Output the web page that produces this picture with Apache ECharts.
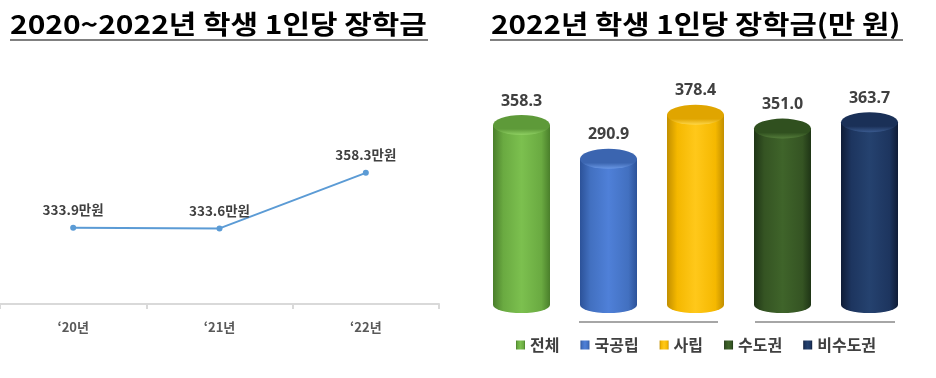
<!DOCTYPE html>
<html>
<head>
<meta charset="utf-8">
<script src="https://cdn.jsdelivr.net/npm/echarts@6/dist/echarts.min.js"></script>
<style>
  html, body { margin: 0; padding: 0; background: #fff; }
  #chart { width: 936px; height: 378px; }
</style>
</head>
<body>
<div id="chart"></div>
<script>
// left chart: 2020~2022
const years = ['‘20년', '‘21년', '‘22년'];
const perStudent = [333.9, 333.6, 358.3];

// right chart: 2022 by group
const groups = ['전체', '국공립', '사립', '수도권', '비수도권'];
const groupValues = [358.3, 290.9, 378.4, 351.0, 363.7];

// [edge, mid, light, capTop, capRim]
const palette = [
  ['#4a7f2b', '#6aaa41', '#7cc04f', '#5e9a39', '#8fd062'],
  ['#2c5299', '#4270c0', '#4f80d8', '#3b65b0', '#6a98e6'],
  ['#c28f00', '#f5b800', '#ffc81a', '#e0a500', '#ffd84a'],
  ['#1f3516', '#355423', '#3f642a', '#30501f', '#557e3b'],
  ['#0f1c36', '#1d355f', '#25426f', '#1a3057', '#3a5a8f']
];

function bodyColor(p) {
  return new echarts.graphic.LinearGradient(0, 0, 1, 0, [
    { offset: 0, color: p[0] },
    { offset: 0.18, color: p[1] },
    { offset: 0.5, color: p[2] },
    { offset: 0.85, color: p[1] },
    { offset: 1, color: p[0] }
  ]);
}
function capColor(p) {
  return new echarts.graphic.LinearGradient(0, 0, 0, 1, [
    { offset: 0, color: p[3] },
    { offset: 0.7, color: p[3] },
    { offset: 1, color: p[4] }
  ]);
}

const titleStyle = { fill: '#000', fontSize: 26, fontWeight: 'bold', fontFamily: 'Noto Sans CJK KR', verticalAlign: 'middle' };

const chart = echarts.init(document.getElementById('chart'));

const barSeries = groups.map((name, i) => ({
  name: name,
  type: 'bar',
  xAxisIndex: 1,
  yAxisIndex: 1,
  barWidth: 57,
  barGap: '-100%',
  itemStyle: { color: bodyColor(palette[i]) },
  label: {
    show: true,
    position: 'top',
    distance: 16,
    color: '#404040',
    fontSize: 16,
    fontWeight: 'bold',
    fontFamily: 'Noto Sans',
    formatter: (p) => p.value.toFixed(1)
  },
  data: groupValues.map((v, j) => (j === i ? v : '-'))
}));

const option = {
  animation: false,
  textStyle: { fontFamily: 'Noto Sans, Noto Sans CJK KR' },
  graphic: [
    { type: 'text', x: 10, y: 24, scaleX: 1.15, style: Object.assign({ text: '2020~2022년 학생 1인당 장학금' }, titleStyle) },
    { type: 'text', x: 491, y: 24, scaleX: 1.14, style: Object.assign({ text: '2022년 학생 1인당 장학금(만 원)' }, titleStyle) },
    { type: 'line', shape: { x1: 10, y1: 40, x2: 428, y2: 40 }, style: { stroke: '#808080', lineWidth: 2 } },
    { type: 'line', shape: { x1: 490, y1: 40, x2: 903, y2: 40 }, style: { stroke: '#808080', lineWidth: 2 } },
    { type: 'line', shape: { x1: 579, y1: 322, x2: 718, y2: 322 }, style: { stroke: '#a6a6a6', lineWidth: 2 } },
    { type: 'line', shape: { x1: 755, y1: 322, x2: 895, y2: 322 }, style: { stroke: '#a6a6a6', lineWidth: 2 } }
  ],
  legend: {
    data: groups,
    top: 332,
    left: 511,
    icon: 'rect',
    itemWidth: 9,
    itemHeight: 9,
    itemGap: 21,
    textStyle: { fontSize: 16, fontWeight: 'bold', color: '#404040', fontFamily: 'Noto Sans CJK KR' }
  },
  grid: [
    { left: 0, width: 439, top: 124, bottom: 74 },
    { left: 478, width: 435, top: 104, bottom: 73 }
  ],
  xAxis: [
    {
      gridIndex: 0,
      type: 'category',
      data: years,
      boundaryGap: true,
      axisLine: { lineStyle: { color: '#d9d9d9', width: 2 } },
      axisTick: { show: true, length: 5, lineStyle: { color: '#d9d9d9', width: 2 } },
      axisLabel: { color: '#595959', fontSize: 13, fontWeight: 'bold', margin: 17, fontFamily: 'Noto Sans CJK KR' }
    },
    {
      gridIndex: 1,
      type: 'category',
      data: groups,
      show: false
    }
  ],
  yAxis: [
    { gridIndex: 0, type: 'value', min: 300, max: 380, show: false },
    { gridIndex: 1, type: 'value', min: 0, max: 400, show: false }
  ],
  series: [
    {
      type: 'line',
      xAxisIndex: 0,
      yAxisIndex: 0,
      data: perStudent,
      symbol: 'circle',
      symbolSize: 6,
      lineStyle: { color: '#5b9bd5', width: 2 },
      itemStyle: { color: '#5b9bd5' },
      label: {
        show: true,
        position: 'top',
        distance: 8,
        color: '#404040',
        fontSize: 13.5,
        fontWeight: 'bold',
        fontFamily: 'Noto Sans CJK KR',
        formatter: (p) => p.value.toFixed(1) + '만원'
      }
    },
    ...barSeries,
    {
      name: 'bottomCap',
      type: 'pictorialBar',
      xAxisIndex: 1,
      yAxisIndex: 1,
      barWidth: 57,
      barGap: '-100%',
      symbol: 'circle',
      symbolSize: [57, 16],
      symbolPosition: 'start',
      symbolOffset: [0, '50%'],
      z: 1,
      data: groupValues.map((v, i) => ({ value: v, itemStyle: { color: bodyColor(palette[i]) } }))
    },
    {
      name: 'topCap',
      type: 'pictorialBar',
      xAxisIndex: 1,
      yAxisIndex: 1,
      barWidth: 57,
      barGap: '-100%',
      symbol: 'circle',
      symbolSize: [57, 20],
      symbolPosition: 'end',
      symbolOffset: [0, '-50%'],
      z: 3,
      data: groupValues.map((v, i) => ({ value: v, itemStyle: { color: capColor(palette[i]) } }))
    }
  ]
};

chart.setOption(option);
</script>
</body>
</html>
